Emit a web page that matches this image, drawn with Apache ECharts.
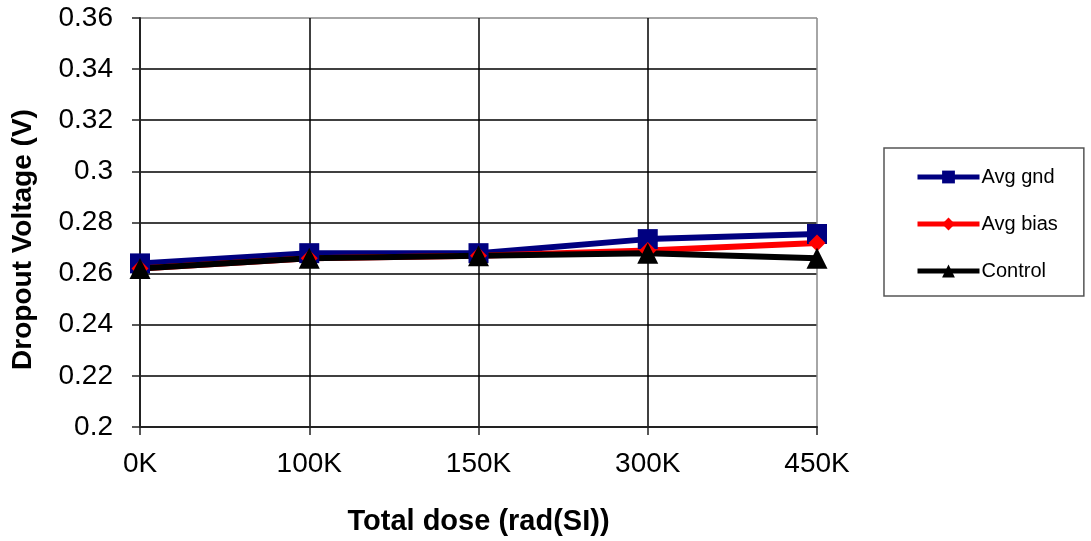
<!DOCTYPE html>
<html>
<head>
<meta charset="utf-8">
<script src="https://cdn.jsdelivr.net/npm/echarts@6/dist/echarts.min.js"></script>
<style>
html,body{margin:0;padding:0;background:#fff;}
#chart{width:1091px;height:541px;}
</style>
</head>
<body>
<div id="chart"></div>
<script>
var categories = ['0K', '100K', '150K', '300K', '450K'];
var avgGnd = [0.264, 0.268, 0.268, 0.2735, 0.2755];
var avgBias = [0.262, 0.266, 0.267, 0.269, 0.272];
var control = [0.262, 0.266, 0.267, 0.268, 0.266];
var yMin = 0.2, yMax = 0.36, yStep = 0.02;

var chart = echarts.init(document.getElementById('chart'));
var font = 'Liberation Sans, Arial, sans-serif';
chart.setOption({
  animation: false,
  backgroundColor: '#fff',
  grid: {left: 140, right: 274, top: 18, bottom: 114, show: false},
  legend: {
    orient: 'vertical',
    left: 884, top: 148,
    padding: [19, 26, 15, 31],
    itemGap: 27,
    itemWidth: 62,
    itemHeight: 16,
    borderColor: '#555',
    borderWidth: 1.5,
    lineStyle: {width: 5},
    textStyle: {fontFamily: font, fontSize: 20, lineHeight: 20, color: '#000', padding: [0,0,0,-3]},
    data: ['Avg gnd', 'Avg bias', 'Control']
  },
  xAxis: {
    type: 'category',
    data: categories,
    boundaryGap: false,
    name: 'Total dose (rad(SI))',
    nameLocation: 'middle',
    nameGap: 80,
    nameTextStyle: {fontFamily: font, fontSize: 29, fontWeight: 'bold', color: '#000'},
    axisLine: {lineStyle: {color: '#222', width: 2}},
    axisTick: {show: true, length: 8, lineStyle: {color: '#222', width: 1.5}},
    axisLabel: {fontFamily: font, fontSize: 28, color: '#000', margin: 23},
    splitLine: {show: true, lineStyle: {color: ['#000','#000','#000','#000','#888'], width: 1.5}}
  },
  yAxis: {
    type: 'value',
    min: yMin, max: yMax, interval: yStep,
    name: 'Dropout Voltage (V)',
    nameLocation: 'middle',
    nameGap: 103,
    nameTextStyle: {fontFamily: font, fontSize: 28, fontWeight: 'bold', color: '#000', padding: [0, 34, 0, 0]},
    axisLine: {show: true, lineStyle: {color: '#222', width: 2}},
    axisTick: {show: true, length: 8, lineStyle: {color: '#222', width: 1.5}},
    axisLabel: {fontFamily: font, fontSize: 28, color: '#000', margin: 27},
    splitLine: {show: true, lineStyle: {color: ['#000','#000','#000','#000','#000','#000','#000','#000','#888'], width: 1.5}}
  },
  series: [
    {name: 'Avg gnd', type: 'line', data: avgGnd, symbol: 'rect', symbolSize: 20,
     lineStyle: {color: '#000080', width: 6}, itemStyle: {color: '#000080'}},
    {name: 'Avg bias', type: 'line', data: avgBias, symbol: 'diamond', symbolSize: 17,
     lineStyle: {color: '#ff0000', width: 6}, itemStyle: {color: '#ff0000'}},
    {name: 'Control', type: 'line', data: control, symbol: 'triangle', symbolSize: 21,
     lineStyle: {color: '#000', width: 6}, itemStyle: {color: '#000'}}
  ]
});
</script>
</body>
</html>
